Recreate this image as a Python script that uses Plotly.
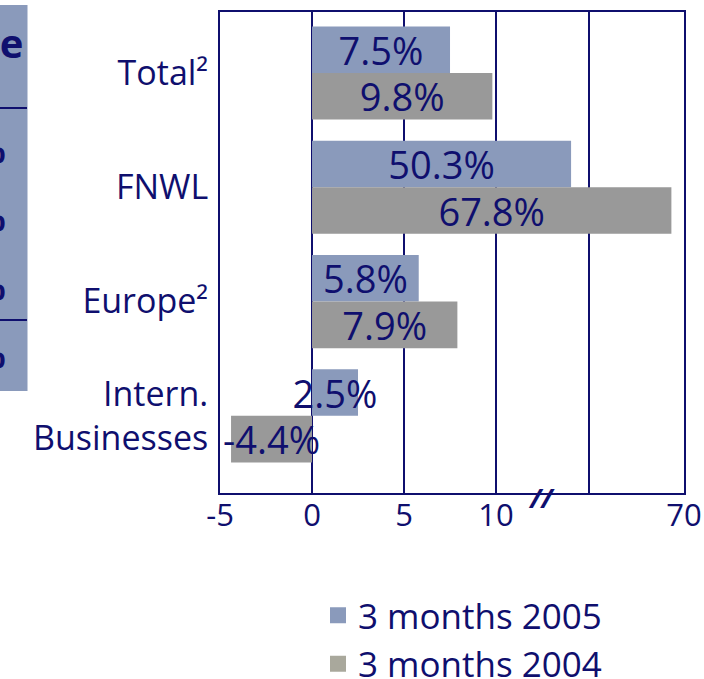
import plotly.graph_objects as go

# ---------------- data ----------------
categories = ["Total²", "FNWL", "Europe²", "Intern.<br>Businesses"]
series_names = ["3 months 2005", "3 months 2004"]
values_2005 = [7.5, 50.3, 5.8, 2.5]
values_2004 = [9.8, 67.8, 7.9, -4.4]
labels_2005 = ["7.5%", "50.3%", "5.8%", "2.5%"]
labels_2004 = ["9.8%", "67.8%", "7.9%", "-4.4%"]
tick_values = [-5, 0, 5, 10, 53.4, 70]
tick_labels = ["-5", "0", "5", "10", " ", "70"]

# broken-axis scale: linear up to LOW_END, then compressed from HIGH_START on
LOW_END = 12.45
HIGH_START = 45.07
HIGH_SCALE = 0.3115


def brk(v):
    return v if v <= LOW_END else LOW_END + (v - HIGH_START) * HIGH_SCALE


NAVY = "#0f0f6e"
C2005 = "#8a9abb"
C2004 = "#999999"
C2004_LEG = "#a9a89c"
FONT = "Open Sans"

W, H = 704, 679
ML, MR, MT, MB = 220, 20, 12, 186
PW, PH = W - ML - MR, H - MT - MB


def px_x(p):
    return (p - ML) / PW


def px_y(p):
    return (H - MB - p) / PH


fig = go.Figure()
fig.add_trace(go.Bar(
    y=categories, x=[brk(v) for v in values_2005], orientation="h",
    name=series_names[0], marker=dict(color=C2005, line=dict(width=0)),
    text=labels_2005, textposition="inside", insidetextanchor="middle", textangle=0,
    constraintext="none", textfont=dict(size=38, color=NAVY, family=FONT),
    showlegend=False,
))
fig.add_trace(go.Bar(
    y=categories, x=[brk(v) for v in values_2004], orientation="h",
    name=series_names[1], marker=dict(color=C2004, line=dict(width=0)),
    text=labels_2004, textposition="inside", insidetextanchor="middle", textangle=0,
    constraintext="none", textfont=dict(size=38, color=NAVY, family=FONT),
    showlegend=False,
))
# legend entries
for nm, col in zip(series_names, [C2005, C2004_LEG]):
    fig.add_trace(go.Scatter(
        x=[None], y=[None], mode="markers", name=nm, legendgroup=nm,
        marker=dict(symbol="square", size=18, color=col),
    ))

fig.update_layout(
    width=W, height=H,
    margin=dict(l=ML, r=MR, t=MT, b=MB, autoexpand=False),
    paper_bgcolor="white", plot_bgcolor="white",
    barmode="group", bargap=0.185, bargroupgap=0,
    font=dict(family=FONT, color=NAVY),
    showlegend=True,
    legend=dict(
        x=px_x(318), y=px_y(586), xanchor="left", yanchor="top",
        font=dict(size=35, color=NAVY, family=FONT),
        bgcolor="rgba(0,0,0,0)", tracegroupgap=0, traceorder="normal",
    ),
)
fig.update_xaxes(
    range=[-5, brk(70)], automargin=False,
    tickmode="array", tickvals=[brk(v) for v in tick_values], ticktext=tick_labels,
    showgrid=True, gridcolor=NAVY, gridwidth=2,
    zeroline=True, zerolinecolor=NAVY, zerolinewidth=2,
    showline=True, mirror=True, linecolor=NAVY, linewidth=2,
    ticks="", tickfont=dict(size=31, color=NAVY, family=FONT),
    ticklabelstandoff=-6,
)
fig.update_yaxes(
    type="category", categoryorder="array", categoryarray=categories,
    range=[3.675, -0.534], automargin=False,
    showgrid=False, zeroline=False,
    showline=True, mirror=True, linecolor=NAVY, linewidth=2,
    ticks="", tickfont=dict(size=34, color=NAVY, family=FONT),
    ticklabelstandoff=3,
)

# axis break mark
fig.add_annotation(
    x=LOW_END, xref="x", y=px_y(497), yref="paper",
    text="<b><i>//</i></b>", showarrow=False, font=dict(size=27, color=NAVY, family=FONT),
    xanchor="center", yanchor="middle",
)

# partial table at the far left (cropped element of the slide)
fig.add_shape(type="rect", xref="paper", yref="paper",
              x0=px_x(-5), x1=px_x(27.5), y0=px_y(391), y1=px_y(5),
              fillcolor=C2005, line=dict(width=0), layer="below")
for yy in [108, 320]:
    fig.add_shape(type="line", xref="paper", yref="paper",
                  x0=px_x(-5), x1=px_x(27), y0=px_y(yy), y1=px_y(yy),
                  line=dict(color=NAVY, width=2))
fig.add_annotation(x=px_x(25), y=px_y(42), xref="paper", yref="paper",
                   text="<b>Change</b>", showarrow=False, xanchor="right", yanchor="middle",
                   font=dict(size=40, color=NAVY, family=FONT))
for yy in [150, 218, 287, 355]:
    fig.add_annotation(x=px_x(8), y=px_y(yy), xref="paper", yref="paper",
                       text="<b>%</b>", showarrow=False, xanchor="right", yanchor="middle",
                       font=dict(size=34, color=NAVY, family=FONT))

fig.write_html(
    "out.html",
    config={"displayModeBar": False},
    post_script="document.body.style.margin='0';document.body.style.padding='0';document.body.style.overflow='hidden';",
)
